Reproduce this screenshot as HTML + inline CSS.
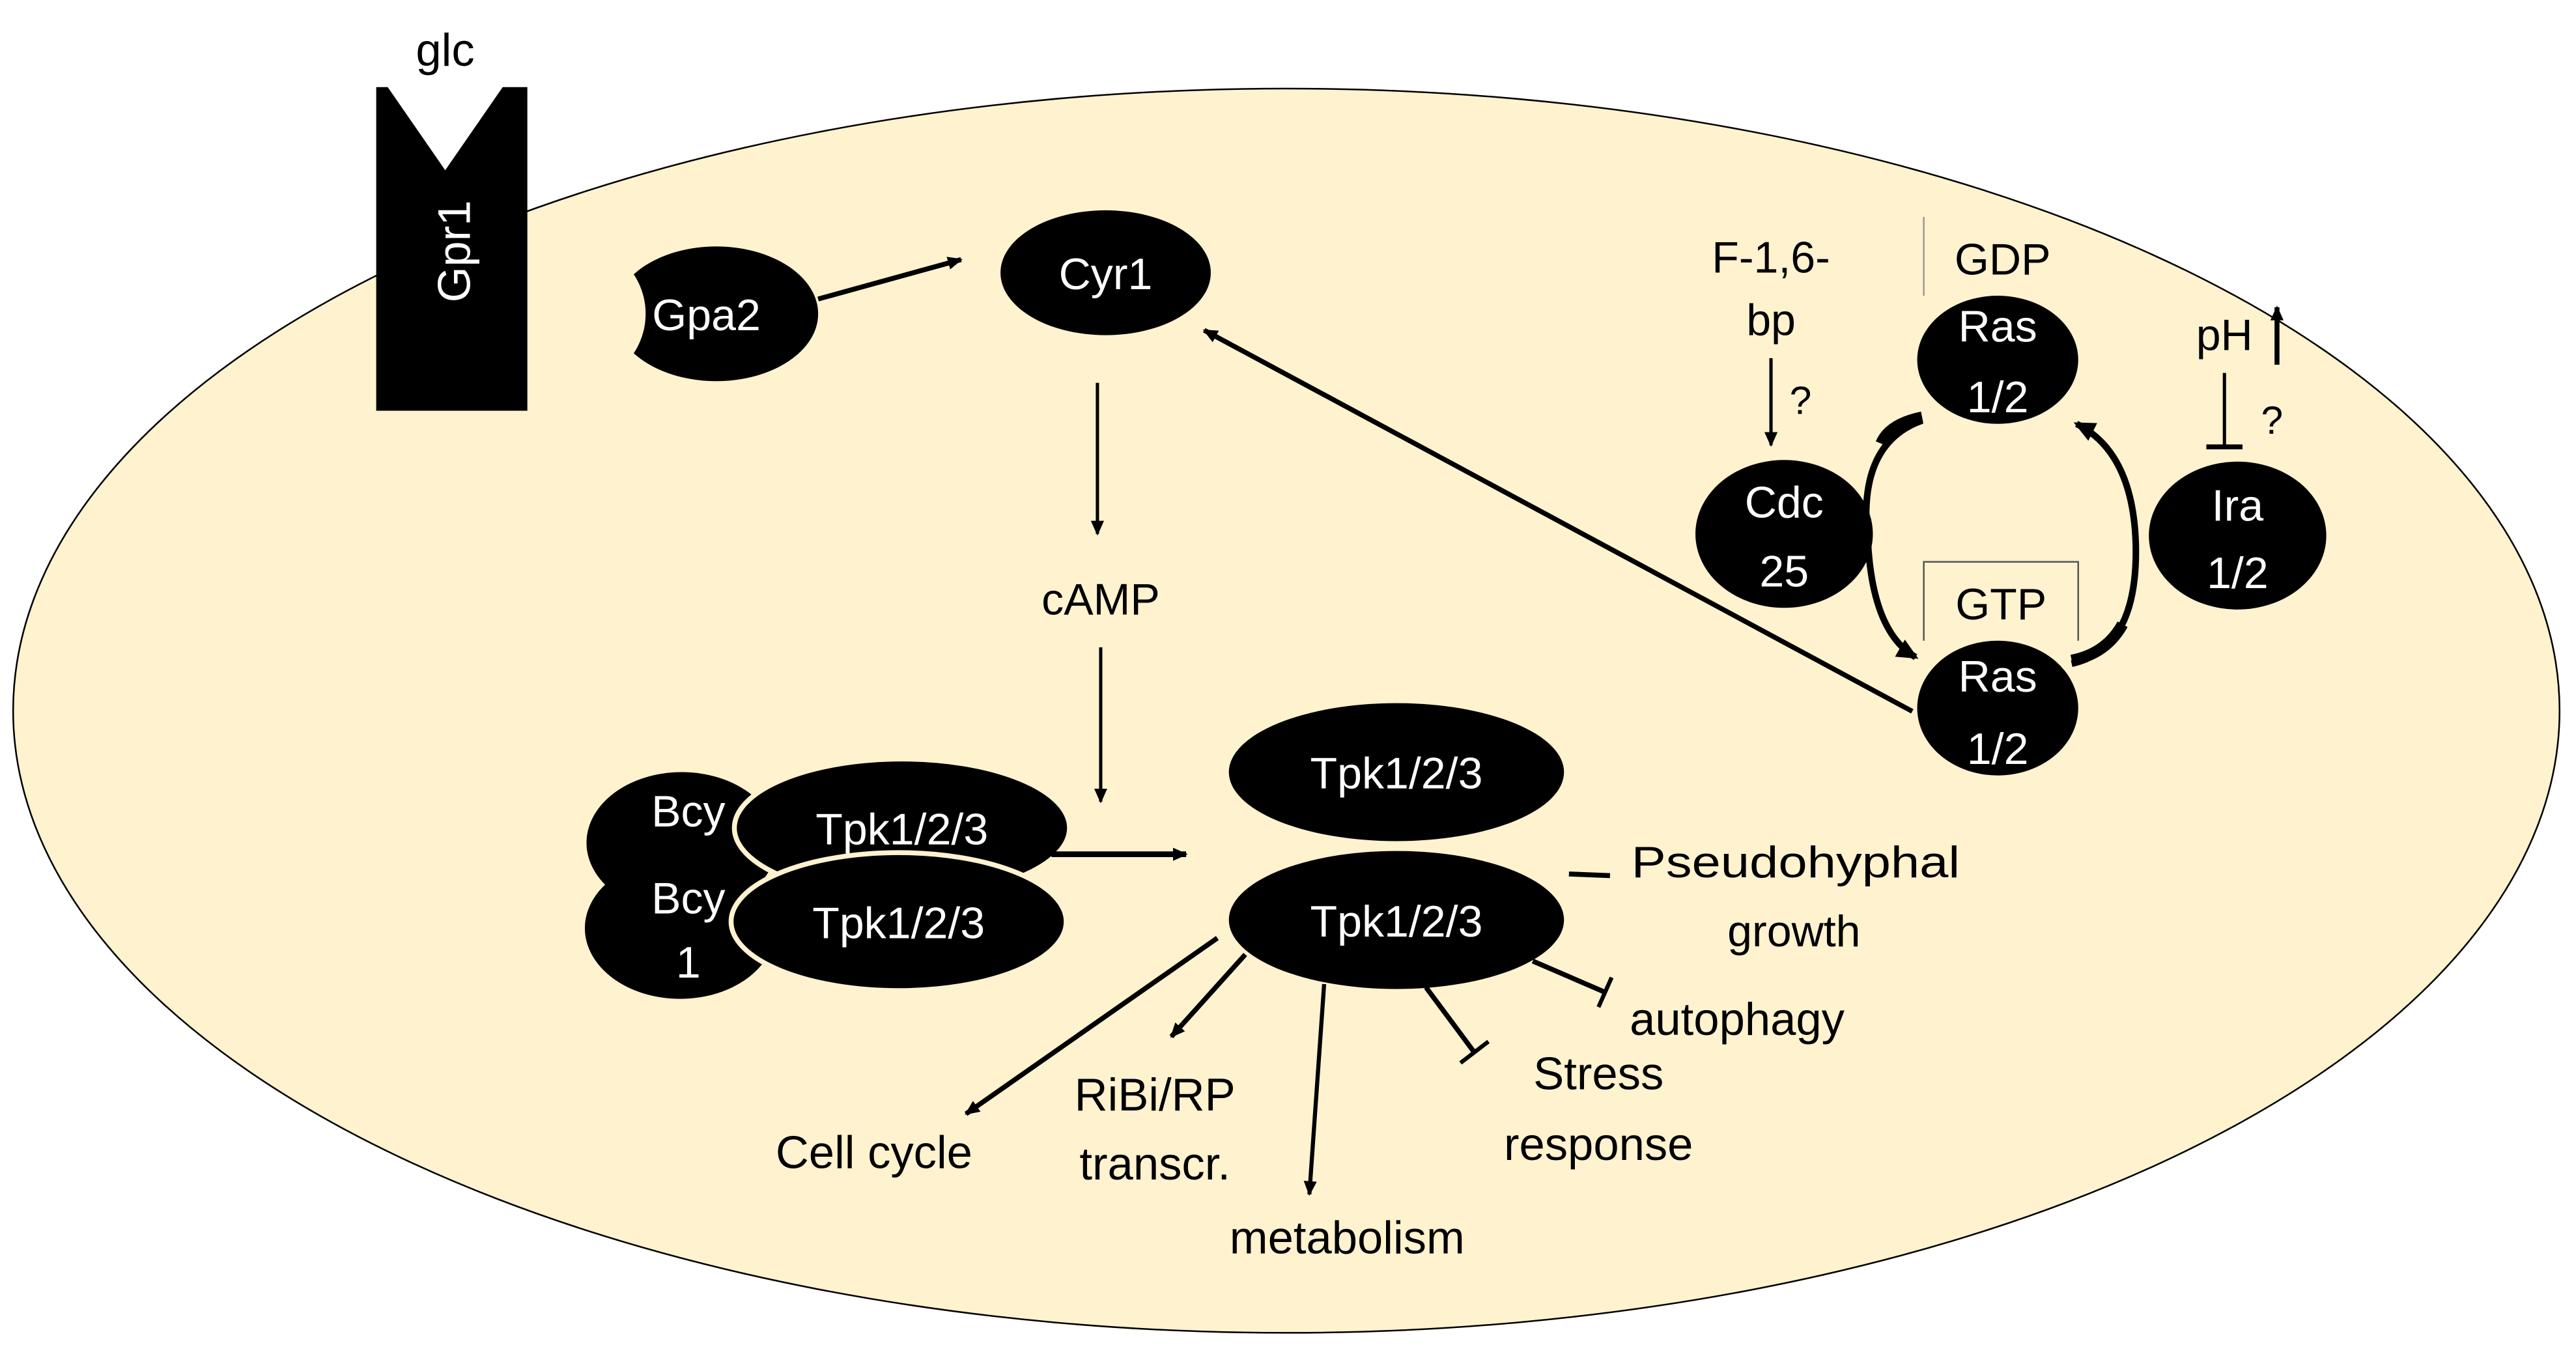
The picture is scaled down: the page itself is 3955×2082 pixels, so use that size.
<!DOCTYPE html>
<html><head><meta charset="utf-8"><style>
html,body{margin:0;padding:0;background:#fff;}
svg{display:block;}
text{font-family:"Liberation Sans",sans-serif;}
</style></head><body>
<svg width="3955" height="2082" viewBox="0 0 1568 825.4" xmlns="http://www.w3.org/2000/svg">
<defs>
<marker id="ah" markerWidth="10" markerHeight="10" refX="8" refY="5" orient="auto" markerUnits="userSpaceOnUse"><path d="M0,1 L9,5 L0,9 Z" fill="#000"/></marker>
<marker id="ah2" markerWidth="14" markerHeight="14" refX="11" refY="7" orient="auto" markerUnits="userSpaceOnUse"><path d="M0,1 L13,7 L0,13 Z" fill="#000"/></marker>
</defs>
<ellipse cx="783" cy="432.6" rx="775" ry="378.7" fill="#fff2cf" stroke="#000" stroke-width="1"/>
<!-- Gpa2 -->
<ellipse cx="436" cy="191" rx="62" ry="41" fill="#000"/>
<circle cx="349.5" cy="191" r="43.5" fill="#fff2cf"/>
<text x="430" y="201" font-size="27" fill="#fff" text-anchor="middle">Gpa2</text>
<!-- Gpr1 -->
<path d="M229,53 L236,53 L271,103.6 L306,53 L321,53 L321,250 L229,250 Z" fill="#000"/>
<text x="271" y="40" font-size="28" text-anchor="middle">glc</text>
<text transform="translate(286,153) rotate(-90)" font-size="28" fill="#fff" text-anchor="middle">Gpr1</text>
<line x1="498" y1="182" x2="585" y2="158" stroke="#000" stroke-width="3" marker-end="url(#ah)"/>
<!-- Cyr1 -->
<ellipse cx="673" cy="166" rx="64" ry="38" fill="#000"/>
<text x="673" y="176" font-size="27" fill="#fff" text-anchor="middle">Cyr1</text>
<line x1="668" y1="233" x2="668" y2="325" stroke="#000" stroke-width="2" marker-end="url(#ah)"/>
<text x="670" y="374" font-size="27" text-anchor="middle">cAMP</text>
<line x1="670" y1="394" x2="670" y2="488" stroke="#000" stroke-width="2" marker-end="url(#ah)"/>
<!-- complex -->
<ellipse cx="415" cy="513" rx="58" ry="43" fill="#000"/>
<ellipse cx="414" cy="565" rx="58" ry="43" fill="#000"/>
<ellipse cx="549" cy="504" rx="102" ry="42" fill="#000" stroke="#fff2cf" stroke-width="3"/>
<ellipse cx="547" cy="561" rx="102" ry="42" fill="#000" stroke="#fff2cf" stroke-width="3"/>
<text x="419" y="503" font-size="27" fill="#fff" text-anchor="middle">Bcy</text>
<text x="419" y="556" font-size="27" fill="#fff" text-anchor="middle">Bcy</text>
<text x="419" y="595" font-size="27" fill="#fff" text-anchor="middle">1</text>
<text x="549" y="514" font-size="27" fill="#fff" text-anchor="middle">Tpk1/2/3</text>
<text x="547" y="571" font-size="27" fill="#fff" text-anchor="middle">Tpk1/2/3</text>
<line x1="640" y1="520" x2="722" y2="520" stroke="#000" stroke-width="3.5" marker-end="url(#ah)"/>
<!-- free Tpk -->
<ellipse cx="850" cy="470" rx="102" ry="42" fill="#000"/>
<ellipse cx="850" cy="560" rx="102" ry="42" fill="#000"/>
<text x="850" y="480" font-size="27" fill="#fff" text-anchor="middle">Tpk1/2/3</text>
<text x="850" y="570" font-size="27" fill="#fff" text-anchor="middle">Tpk1/2/3</text>
<line x1="955" y1="532" x2="980" y2="533" stroke="#000" stroke-width="3"/>
<text x="993" y="534" font-size="27" textLength="200" lengthAdjust="spacingAndGlyphs">Pseudohyphal</text>
<text x="1092" y="576" font-size="27" text-anchor="middle">growth</text>
<line x1="741" y1="571" x2="588" y2="678" stroke="#000" stroke-width="3" marker-end="url(#ah)"/>
<line x1="758" y1="581" x2="713" y2="631" stroke="#000" stroke-width="3" marker-end="url(#ah)"/>
<line x1="806" y1="599" x2="797" y2="727" stroke="#000" stroke-width="2.5" marker-end="url(#ah)"/>
<line x1="868" y1="601" x2="897" y2="640" stroke="#000" stroke-width="3"/>
<line x1="889" y1="647" x2="906" y2="634" stroke="#000" stroke-width="2.5"/>
<line x1="933" y1="585" x2="977" y2="604" stroke="#000" stroke-width="3"/>
<line x1="973" y1="613" x2="981" y2="595" stroke="#000" stroke-width="2.5"/>
<text x="532" y="711" font-size="28" text-anchor="middle">Cell cycle</text>
<text x="703" y="676" font-size="28" text-anchor="middle">RiBi/RP</text>
<text x="703" y="718" font-size="28" text-anchor="middle">transcr.</text>
<text x="820" y="763" font-size="28" text-anchor="middle">metabolism</text>
<text x="973" y="663" font-size="28" text-anchor="middle">Stress</text>
<text x="973" y="706" font-size="28" text-anchor="middle">response</text>
<text x="992" y="630" font-size="28">autophagy</text>
<!-- Ras cycle -->
<text x="1078" y="166" font-size="27" text-anchor="middle">F-1,6-</text>
<text x="1078" y="204" font-size="27" text-anchor="middle">bp</text>
<line x1="1078" y1="218" x2="1078" y2="271" stroke="#000" stroke-width="2" marker-end="url(#ah)"/>
<text x="1096" y="252" font-size="24" text-anchor="middle">?</text>
<line x1="1171" y1="132" x2="1171" y2="180" stroke="#999" stroke-width="1"/>
<text x="1219" y="167" font-size="27" text-anchor="middle">GDP</text>
<ellipse cx="1216" cy="219" rx="49" ry="39" fill="#000"/>
<text x="1216" y="208" font-size="27" fill="#fff" text-anchor="middle">Ras</text>
<text x="1216" y="251" font-size="27" fill="#fff" text-anchor="middle">1/2</text>
<ellipse cx="1086" cy="325" rx="54" ry="45" fill="#000"/>
<text x="1086" y="315" font-size="27" fill="#fff" text-anchor="middle">Cdc</text>
<text x="1086" y="357" font-size="27" fill="#fff" text-anchor="middle">25</text>
<path d="M1171,390 L1171,342 L1265,342 L1265,390" fill="none" stroke="#555" stroke-width="1"/>
<text x="1218" y="377" font-size="27" text-anchor="middle">GTP</text>
<ellipse cx="1216" cy="431" rx="49" ry="41" fill="#000"/>
<text x="1216" y="421" font-size="27" fill="#fff" text-anchor="middle">Ras</text>
<text x="1216" y="465" font-size="27" fill="#fff" text-anchor="middle">1/2</text>
<ellipse cx="1362" cy="326" rx="54" ry="45" fill="#000"/>
<text x="1362" y="317" font-size="27" fill="#fff" text-anchor="middle">Ira</text>
<text x="1362" y="358" font-size="27" fill="#fff" text-anchor="middle">1/2</text>
<text x="1354" y="213" font-size="27" text-anchor="middle">pH</text>
<line x1="1386" y1="222" x2="1386" y2="187" stroke="#000" stroke-width="3" marker-end="url(#ah)"/>
<line x1="1354" y1="227" x2="1354" y2="272" stroke="#000" stroke-width="2"/>
<line x1="1343" y1="272" x2="1365" y2="272" stroke="#000" stroke-width="3"/>
<text x="1383" y="264" font-size="24" text-anchor="middle">?</text>
<!-- arcs -->
<path d="M1170,256 Q1130,270 1137,330 Q1140,385 1166,400" fill="none" stroke="#000" stroke-width="4" marker-end="url(#ah2)"/>
<path d="M1170,254 Q1150,258 1145,270" fill="none" stroke="#000" stroke-width="7"/>
<path d="M1261,404 Q1302,395 1300,330 Q1298,275 1264,258" fill="none" stroke="#000" stroke-width="4" marker-end="url(#ah2)"/>
<path d="M1261,402 Q1282,398 1292,380" fill="none" stroke="#000" stroke-width="7"/>
<!-- Ras -> Cyr1 -->
<line x1="1164" y1="433" x2="733" y2="201" stroke="#000" stroke-width="3" marker-end="url(#ah)"/>
</svg>
</body></html>
